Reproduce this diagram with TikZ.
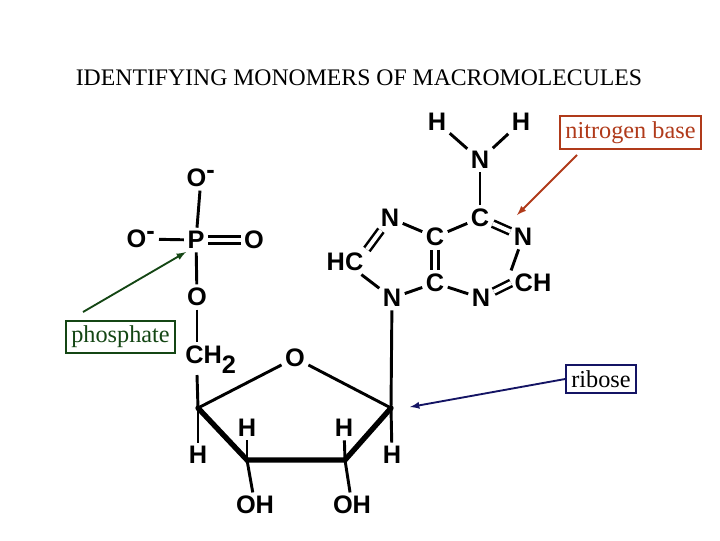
\documentclass[tikz,border=0pt]{standalone}
\usepackage{fontspec}
\setmainfont{Liberation Serif}
\newfontfamily\atomfont{Liberation Sans}
\begin{document}
\begin{tikzpicture}[x=0.75pt,y=-0.75pt,
  atom/.style={font=\atomfont\bfseries\fontsize{19}{19}\selectfont,inner sep=2.5pt},
  bond/.style={line width=2.2pt},
  thick bond/.style={line width=4pt},
  dbl/.style={line width=1.9pt,double,double distance=3pt},
  lbl/.style={draw,line width=1.3pt,font=\fontsize{18.2}{18.2}\selectfont,inner sep=4pt},
  arr/.style={line width=1.4pt,-latex}]
\useasboundingbox (0,0) rectangle (720,540);
\node[font=\fontsize{17.8}{17.8}\selectfont] (title) at (359,78) {IDENTIFYING MONOMERS OF MACROMOLECULES};
% phosphate
\node[atom] (Ot) at (201,178) {O$^{\textbf{-}}$};
\node[atom] (P) at (196,240) {P};
\node[atom] (Ol) at (141,239) {O$^{\textbf{-}}$};
\node[atom] (Or) at (254,240) {O};
\node[atom] (Ob) at (197,297) {O};
\node[atom] (CH) at (211,360) {CH$_{\textbf{2}}$};
\coordinate (CHb) at (197,375);
% ribose
\node[atom] (Or5) at (295,358) {O};
\coordinate (C4) at (198,408);
\coordinate (C1) at (391,408);
\coordinate (C3) at (247,460);
\coordinate (C2) at (345,460);
\node[atom] (H4) at (198,455) {H};
\node[atom] (H3) at (247,428) {H};
\node[atom] (H2) at (344,428) {H};
\node[atom] (H1) at (392,455) {H};
\node[atom] (OH3) at (255,505) {OH};
\node[atom] (OH2) at (352,505) {OH};
% base
\node[atom] (N9) at (392,298) {N};
\node[atom] (C8) at (345,262) {HC};
\node[atom] (N7) at (390,218) {N};
\node[atom] (C5) at (435,237) {C};
\node[atom] (C4b) at (435,283) {C};
\node[atom] (C6) at (480,218) {C};
\node[atom] (N1) at (523,237) {N};
\node[atom] (C2b) at (533,283) {CH};
\node[atom] (N3) at (481,298) {N};
\node[atom] (N6) at (480,160) {N};
\node[atom] (Ha) at (437,122) {H};
\node[atom] (Hb) at (521,122) {H};
% bonds
\draw[bond] (Ot) -- (P);
\draw[bond] (Ol) -- (P);
\draw[dbl] (P) -- (Or);
\draw[bond] (P) -- (Ob);
\draw[bond] (Ob) -- (197,342);
\draw[bond] (CHb) -- (C4);
\draw[bond] (C4) -- (Or5);
\draw[bond] (Or5) -- (C1);
\draw[bond] (C4) -- (H4);
\draw[thick bond,line cap=round] (C4) -- (C3) -- (C2) -- (C1);
\draw[bond] (C3) -- (H3);
\draw[bond] (C2) -- (H2);
\draw[bond] (C3) -- (OH3);
\draw[bond] (C2) -- (OH2);
\draw[bond] (C1) -- (H1);
\draw[bond] (C1) -- (N9);
\draw[bond] (N9) -- (C8);
\draw[dbl] (C8.north east) -- (N7);
\draw[bond] (N7) -- (C5);
\draw[dbl] (C5) -- (C4b);
\draw[bond] (C4b) -- (N9);
\draw[bond] (C5) -- (C6);
\draw[dbl] (C6) -- (N1);
\draw[bond] (N1) -- (C2b.north west);
\draw[dbl] (C2b.west) -- (N3);
\draw[bond] (N3) -- (C4b);
\draw[bond] (C6) -- (N6);
\draw[bond] (N6) -- (Ha);
\draw[bond] (N6) -- (Hb);
% labels
\definecolor{nb}{RGB}{176,58,26}
\definecolor{ph}{RGB}{20,70,20}
\definecolor{rb}{RGB}{20,20,100}
\node[lbl,draw=nb,text=nb] (nbase) at (630.5,132.5) {nitrogen base};
\node[lbl,draw=ph,text=ph] (phos) at (120.5,337) {phosphate};
\node[lbl,draw=rb,text=black] (rib) at (601,379) {ribose};
\coordinate (nbt) at (517,215);
\coordinate (pht) at (186,252);
\coordinate (rbt) at (410,407);
\draw[arr,nb] (577,155) -- (nbt);
\draw[arr,ph] (83,312) -- (pht);
\draw[arr,rb] (rib.west) -- (rbt);
\end{tikzpicture}
\end{document}
